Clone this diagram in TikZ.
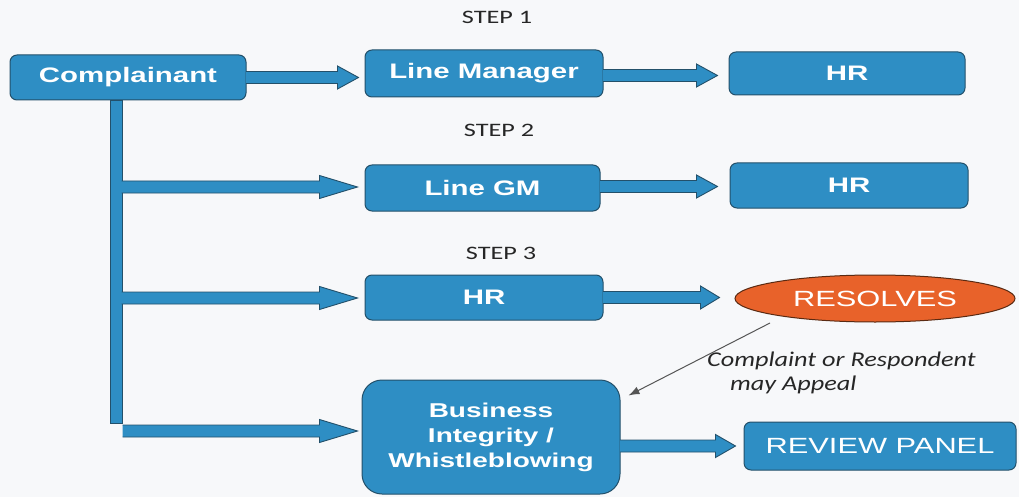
\documentclass[tikz,border=0pt]{standalone}
\usepackage{fontspec}
\usetikzlibrary{calc,shapes.geometric,arrows.meta}
\newfontfamily\boxfont[FakeStretch=1.4]{Liberation Sans}
\newfontfamily\stepfont[FakeStretch=1.38]{Carlito}
\newfontfamily\notefont[FakeStretch=1.25]{Carlito}
\definecolor{boxblue}{HTML}{2E8EC4}
\definecolor{boxedge}{HTML}{23506A}
\definecolor{resorange}{HTML}{E8622A}
\definecolor{resedge}{HTML}{5A2A12}
\definecolor{bgcol}{HTML}{F7F8FA}
\definecolor{appealgray}{HTML}{555555}
\tikzset{
  bx/.style={draw=boxedge, line width=1pt, fill=boxblue, rounded corners=7pt,
    text=white, font=\boxfont\bfseries\fontsize{21}{25}\selectfont,
    inner sep=0pt, align=center},
  bxreg/.style={bx, font=\boxfont\fontsize{22}{25}\selectfont},
  barrowst/.style={draw=boxedge, line width=0.9pt, fill=boxblue, line join=miter},
  steplbl/.style={font=\stepfont\fontsize{19}{22}\selectfont, text=black!85},
  notelbl/.style={font=\notefont\itshape\fontsize{21}{24}\selectfont, text=black!85, inner sep=0pt, anchor=west},
  appeal/.style={draw=appealgray, line width=1pt, -{Latex[length=11pt,width=8pt]}}
}
\newcommand\blockarrow[3]{%
  \filldraw[barrowst] let \p1=(#1), \p2=(#2) in
    (\x1,\y1+6pt) -- (\x2-#3,\y1+6pt) -- (\x2-#3,\y1+11.5pt) -- (\x2,\y1)
    -- (\x2-#3,\y1-11.5pt) -- (\x2-#3,\y1-6pt) -- (\x1,\y1-6pt);}
\begin{document}
\begin{tikzpicture}[x=1pt,y=-1pt]
\fill[bgcol] (0,0) rectangle (1019,497);
\useasboundingbox (0,0) rectangle (1019,497);

% step labels
\node[steplbl] (s1) at (497,17) {STEP 1};
\node[steplbl] (s2) at (499,130) {STEP 2};
\node[steplbl] (s3) at (501,253) {STEP 3};

% boxes
\node[bx, minimum width=236pt, minimum height=45pt] (cmp) at (128,77.5) {Complainant};
\node[bx, minimum width=238pt, minimum height=47pt] (lm) at (484,73.5) {Line Manager};
\node[bx, minimum width=236pt, minimum height=43pt] (hr1) at (847,73.5) {HR};
\node[bx, minimum width=235pt, minimum height=46pt] (gm) at (482.5,188) {Line GM};
\node[bx, minimum width=238pt, minimum height=45pt] (hr2) at (849,185.5) {HR};
\node[bx, minimum width=238pt, minimum height=45pt] (hr3) at (484,297.5) {HR};
\node[ellipse, draw=resedge, line width=1pt, fill=resorange, minimum width=280pt,
  minimum height=47pt, inner sep=0pt, text=white,
  font=\boxfont\fontsize{22}{25}\selectfont] (res) at (875,298.5) {RESOLVES};
\node[bx, minimum width=258pt, minimum height=114pt, rounded corners=20pt,
  font=\boxfont\bfseries\fontsize{20}{25}\selectfont] (bi) at (491,437)
  {Business\\Integrity /\\Whistleblowing};
\node[bxreg, minimum width=272pt, minimum height=48pt] (rp) at (880,446) {REVIEW PANEL};

% vertical bar
\coordinate (barx) at (116,0);
\coordinate (barbot) at (116,423);
\filldraw[barrowst] let \p1=(cmp.south -| barx), \p2=(barbot) in
  (\x1-6pt,\y1) rectangle (\x2+6pt,\y2);

% branch points
\coordinate (b1) at (121.5,187);
\coordinate (b2) at (121.5,298);
\coordinate (b3) at (122.5,431);

% block arrows
\blockarrow{[xshift=-0.5pt]cmp.east}{[xshift=-6pt]lm.west}{21pt}
\blockarrow{[xshift=-0.5pt]lm.east |- 0,75.5}{[xshift=-11pt]hr1.west}{21pt}
\blockarrow{[xshift=-0.5pt]gm.east |- 0,186.5}{[xshift=-12pt]hr2.west}{21pt}
\blockarrow{[xshift=-0.5pt]hr3.east}{[xshift=-15pt]res.west}{19pt}
\blockarrow{[xshift=-0.5pt]bi.east |- rp.west}{[xshift=-8pt]rp.west}{20pt}
\blockarrow{b1}{[xshift=-7pt]gm.west}{38pt}
\blockarrow{b2}{[xshift=-7pt]hr3.west}{38pt}
\blockarrow{b3}{[xshift=-4pt]bi.west}{38pt}

% appeal
\coordinate (appS) at (770,323);
\draw[appeal] (appS) -- ([xshift=8pt,yshift=-16pt]bi.north east);
\node[notelbl] (n1) at (707,361) {Complaint or Respondent};
\node[notelbl] (n2) at (730,385) {may Appeal};
\end{tikzpicture}
\end{document}
